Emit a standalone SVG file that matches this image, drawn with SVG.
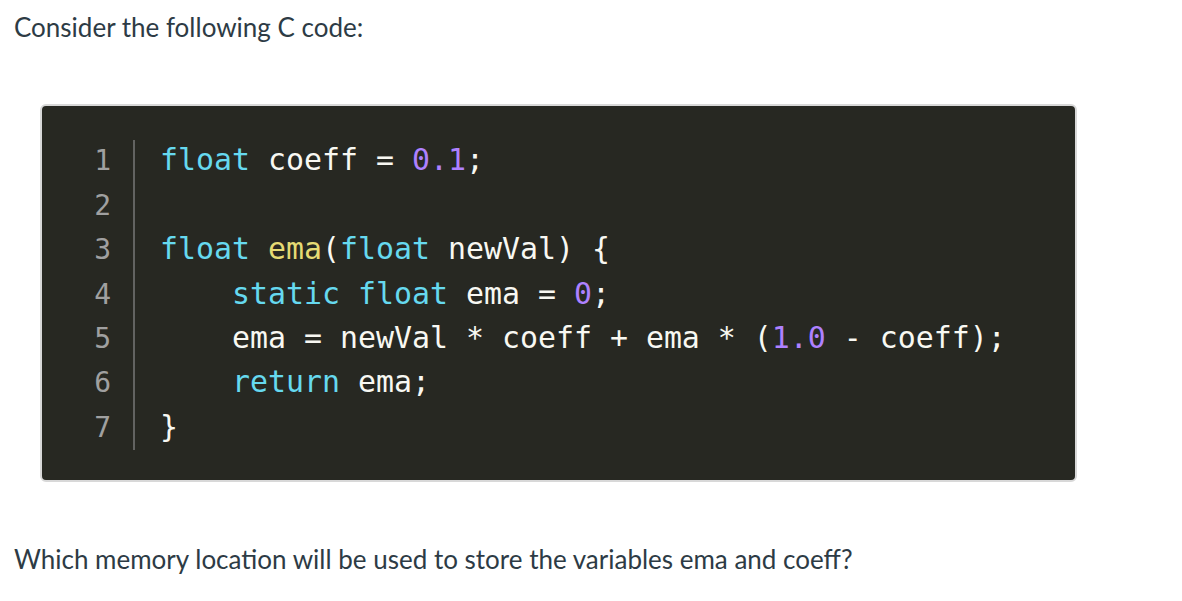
<svg xmlns="http://www.w3.org/2000/svg" width="1182" height="601" viewBox="0 0 1182 601">
<style>
.p{font-family:Lato,"Liberation Sans",sans-serif;font-size:26px;fill:#2d3b45}
.c{font-family:"DejaVu Sans Mono","Liberation Mono",monospace;font-size:29.9px;fill:#f8f8f2;white-space:pre}
.n{font-family:"DejaVu Sans Mono","Liberation Mono",monospace;font-size:28px;fill:#a0a0a0;text-anchor:end}
.k{fill:#66d9ef}.f{fill:#e6db74}.m{fill:#ae81ff}
</style>
<rect width="1182" height="601" fill="#fff"/>
<text class="p" x="14" y="37">Consider the following C code:</text>
<rect x="41" y="105" width="1035" height="376" rx="5" fill="#272822" stroke="#d8d8d8" stroke-width="2"/>
<line x1="134" y1="140" x2="134" y2="450" stroke="#777" stroke-width="1.5"/>
<g>
<text class="n" x="111" y="170">1</text>
<text class="n" x="111" y="215">2</text>
<text class="n" x="111" y="259">3</text>
<text class="n" x="111" y="304">4</text>
<text class="n" x="111" y="348">5</text>
<text class="n" x="111" y="392">6</text>
<text class="n" x="111" y="437">7</text>
</g>
<g xml:space="preserve">
<text class="c" x="160" y="170"><tspan class="k">float</tspan> coeff = <tspan class="m">0.1</tspan>;</text>
<text class="c" x="160" y="259"><tspan class="k">float</tspan> <tspan class="f">ema</tspan>(<tspan class="k">float</tspan> newVal) {</text>
<text class="c" x="160" y="304">    <tspan class="k">static</tspan> <tspan class="k">float</tspan> ema = <tspan class="m">0</tspan>;</text>
<text class="c" x="160" y="348">    ema = newVal * coeff + ema * (<tspan class="m">1.0</tspan> - coeff);</text>
<text class="c" x="160" y="392">    <tspan class="k">return</tspan> ema;</text>
<text class="c" x="160" y="437">}</text>
</g>
<text class="p" x="14" y="569">Which memory location will be used to store the variables ema and coeff?</text>
</svg>
